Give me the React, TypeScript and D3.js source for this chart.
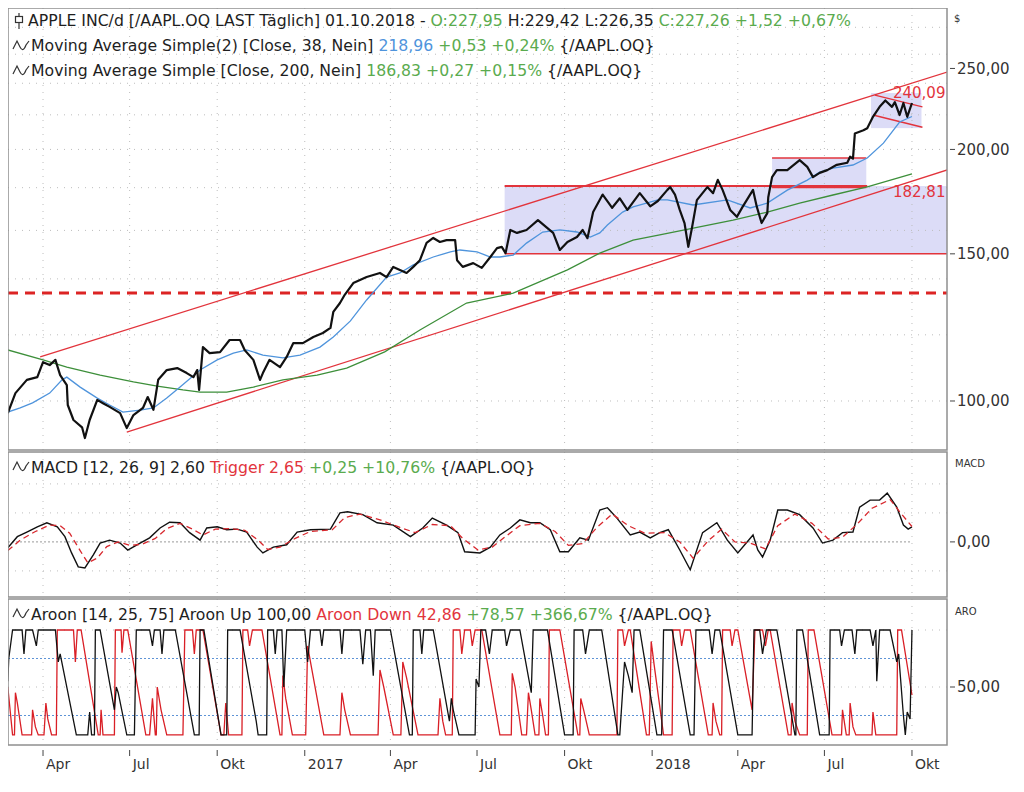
import * as d3 from "d3";

// day offsets are counted from 2016-04-01 (UTC)
const BASE = Date.UTC(2016, 3, 1);
const day = (d: number) => new Date(BASE + d * 864e5);

type Pt = [number, number];

const closePrices: Pt[] = [
  [-37, 96.7], [-29, 102.2], [-17, 106], [-6, 106.8], [0, 111.3], [7, 110.4], [13, 112], [18, 107.4],
  [25, 104.5], [26, 98.9], [32, 94.9], [41, 93], [44, 90.3], [49, 94.9], [57, 100.3], [63, 99.4],
  [70, 98.4], [81, 96.7], [88, 92.8], [95, 96.2], [105, 98.1], [110, 101.1], [116, 97.6], [121, 106],
  [130, 108.9], [141, 109.5], [151, 108], [158, 106.8], [162, 108.9], [164, 103.1], [168, 116],
  [175, 114.1], [186, 114.4], [196, 118.3], [207, 118.3], [212, 115], [221, 112], [228, 106],
  [231, 108], [238, 112], [249, 109.8], [256, 112.9], [263, 117.3], [273, 117.3], [284, 119.3],
  [294, 120.6], [302, 122.3], [305, 127.8], [312, 131], [317, 134], [326, 138.4], [340, 140.7],
  [354, 142.3], [361, 140.7], [368, 144.7], [375, 143.5], [382, 142.3], [389, 144.7], [396, 147.4],
  [403, 154.6], [410, 156.7], [417, 155], [424, 155.8], [433, 155.8], [435, 147.4], [441, 144.7],
  [452, 146.2], [461, 144.3], [470, 148.7], [477, 152.4], [482, 152.9], [486, 150.3], [491, 160.2],
  [498, 158.9], [508, 160.2], [520, 164.6], [530, 161], [536, 158.9], [543, 151.6], [551, 155],
  [561, 157.1], [567, 160.2], [572, 156.6], [578, 168.3], [588, 176.6], [598, 170.3], [606, 174.8],
  [614, 169.3], [627, 177.3], [638, 171], [646, 173.5], [656, 178.9], [659, 180.3], [664, 176.6],
  [669, 169.3], [674, 163.3], [678, 152.9], [682, 161.5], [687, 173.9], [698, 180.3], [704, 177.3],
  [709, 183.9], [714, 178.9], [722, 169.3], [729, 166.1], [735, 170.7], [746, 178.9], [750, 170.7],
  [755, 163.3], [761, 167.8], [762, 175.3], [766, 185.3], [771, 188.9], [782, 188.9], [795, 194.2],
  [803, 190.6], [809, 185.3], [816, 187.5], [824, 188.9], [834, 191.7], [845, 192.8], [848, 196],
  [851, 195], [853, 209], [862, 210.8], [866, 212], [872, 218.8], [879, 224.9], [885, 228.9],
  [892, 224.9], [895, 227.8], [900, 219.9], [904, 227.3], [908, 218.8], [913, 227.3],
];

const sma38: Pt[] = [
  [-37, 97], [-24, 98.1], [-11, 99.5], [7, 102.2], [20, 106], [25, 106.8], [39, 103.9], [57, 100.8],
  [70, 98.9], [84, 97], [102, 97.5], [116, 98.1], [130, 100.8], [144, 103.9], [165, 108.9],
  [183, 112], [200, 114.1], [214, 115.1], [231, 113.5], [252, 112.6], [270, 113.5], [291, 116],
  [305, 119.3], [323, 124.7], [340, 132.1], [361, 140.7], [375, 142.3], [389, 145.5], [410, 148.7],
  [428, 150.8], [438, 151.6], [456, 150.8], [470, 148.7], [480, 148.7], [494, 149.5], [508, 154.5],
  [525, 159.3], [543, 160.2], [561, 159.3], [575, 157.1], [585, 158.9], [593, 162.4], [609, 168.3],
  [620, 170.7], [646, 174], [656, 174], [683, 171.6], [719, 174], [743, 170.2], [761, 172.5],
  [782, 178.8], [803, 183.8], [816, 187.9], [830, 190], [851, 191.6], [866, 195.3], [883, 203.5],
  [900, 215.7], [913, 219],
];

const sma200: Pt[] = [
  [-37, 115.1], [0, 112], [25, 109.8], [60, 107.4], [95, 105.4], [120, 104.2], [147, 103.1],
  [165, 102.5], [193, 102.5], [221, 103.9], [252, 106], [288, 107.4], [319, 109.5], [359, 114.5],
  [396, 121.6], [445, 131], [494, 134.6], [551, 143.5], [585, 150.3], [620, 155.8], [648, 158],
  [725, 164.6], [761, 168.3], [795, 172.5], [830, 176.4], [866, 180.4], [913, 187],
];

const macdLine: Pt[] = [
  [-37, -1], [-27, 0.9], [-17, 1.7], [-6, 2.6], [4, 3.3], [15, 2.6], [23, 0.9], [30, -1.9],
  [37, -4.3], [44, -4.5], [53, -2.2], [60, -0.2], [70, 0.3], [81, -0.2], [89, -1.4], [102, -0.2],
  [112, 0.7], [123, 2.4], [133, 3.4], [144, 3.3], [154, 1.6], [165, 0.3], [172, 2.4], [183, 2.6],
  [193, 2.1], [204, 2.2], [214, 1.7], [225, -0.9], [231, -1.9], [242, -0.9], [256, -0.5],
  [267, 1.7], [281, 2.1], [302, 2.2], [312, 5], [320, 5.2], [336, 4.7], [351, 3.3], [368, 2.9],
  [386, 0.9], [399, 2.4], [409, 4.1], [424, 2.9], [436, 1.6], [443, -1.7], [459, -1.9],
  [470, -0.9], [480, 1.2], [491, 2.4], [501, 3.8], [512, 3.3], [522, 3.3], [533, 2.1], [543, -1.7],
  [552, -1.7], [564, 0.7], [573, 0.3], [585, 5.5], [593, 5.9], [603, 4.1], [617, 1.2], [627, 1.7],
  [638, 0.7], [648, 1.6], [657, 2.1], [669, -1.4], [680, -4.8], [693, 1.6], [708, 3.3], [719, 0.3],
  [730, -1.9], [746, 1.2], [751, -1.4], [756, -2.6], [764, 0.3], [772, 5.5], [782, 5.5], [795, 4.7],
  [809, 2.4], [819, -0.2], [830, 0.3], [840, 1.6], [851, 1.7], [858, 6], [869, 7.2], [879, 7.2],
  [887, 8.4], [897, 6], [904, 2.9], [909, 2.2], [913, 2.6],
];

const macdTrigger: Pt[] = [
  [-37, -1.5], [-24, 0.3], [-8, 1.8], [7, 2.9], [18, 2.8], [28, 1.5], [39, -1.5], [47, -3.6],
  [57, -2.8], [67, -0.8], [79, 0], [91, -0.6], [104, -0.4], [118, 0.6], [130, 2.3], [144, 3.2],
  [157, 2.2], [168, 1.2], [181, 2.2], [196, 2.3], [212, 2], [226, 0.3], [236, -1.3], [249, -0.9],
  [265, 0.6], [281, 1.8], [304, 2.1], [317, 4.2], [333, 4.8], [354, 3.8], [375, 2.5], [391, 1.6],
  [409, 3], [428, 2.8], [441, 0.6], [457, -1.4], [472, -0.9], [485, 0.8], [501, 2.8], [522, 3.2],
  [538, 1.8], [552, -0.6], [567, -0.3], [582, 2.5], [598, 4.8], [615, 2.8], [632, 1.5], [653, 1.6],
  [669, 0], [683, -2.8], [699, 0.2], [713, 2.2], [727, 0], [743, -0.2], [759, -1.2], [772, 2.8],
  [790, 4.8], [808, 3.2], [825, 0.5], [840, 0.8], [855, 3], [871, 5.8], [890, 7.3], [902, 4.8],
  [913, 2.65],
];

const aroonUp: Pt[] = [
  [-37, 55], [-36, 75], [-32, 100], [-22, 100], [-20, 79], [-18, 100], [-11, 100], [-7, 86],
  [-5, 100], [13, 100], [16, 72], [18, 79], [35, 8], [47, 8], [49, 28], [51, 8], [54, 8], [55, 100],
  [60, 100], [75, 30], [77, 50], [79, 45], [88, 8], [96, 8], [98, 100], [112, 100], [115, 86],
  [117, 100], [123, 100], [125, 79], [127, 100], [139, 100], [159, 8], [164, 8], [165, 100],
  [169, 100], [187, 8], [193, 8], [194, 100], [207, 100], [224, 20], [226, 8], [235, 8], [236, 100],
  [242, 100], [244, 79], [246, 100], [251, 100], [253, 50], [256, 100], [275, 100], [278, 72],
  [281, 100], [291, 100], [293, 86], [295, 100], [312, 100], [314, 79], [316, 100], [333, 100],
  [336, 70], [339, 100], [344, 100], [347, 60], [349, 100], [365, 100], [385, 8], [388, 8],
  [389, 100], [396, 100], [398, 79], [400, 100], [410, 100], [427, 20], [429, 40], [431, 30],
  [437, 8], [454, 8], [455, 57], [458, 50], [460, 100], [465, 100], [469, 79], [472, 100],
  [485, 100], [487, 86], [491, 100], [501, 100], [513, 45], [515, 100], [530, 100], [548, 8],
  [557, 8], [558, 100], [567, 100], [570, 79], [574, 100], [587, 100], [604, 8], [606, 8],
  [611, 72], [615, 60], [619, 45], [621, 100], [627, 100], [645, 8], [650, 8], [652, 100],
  [661, 100], [680, 8], [684, 8], [686, 100], [700, 100], [703, 79], [706, 100], [711, 100],
  [730, 8], [745, 8], [747, 100], [753, 100], [756, 79], [760, 100], [771, 100], [790, 8],
  [791, 8], [792, 100], [798, 100], [816, 8], [826, 8], [827, 100], [837, 100], [839, 86],
  [842, 100], [850, 100], [853, 79], [855, 100], [869, 100], [872, 86], [875, 100], [876, 55],
  [879, 100], [890, 100], [897, 72], [899, 79], [904, 25], [906, 8], [908, 28], [911, 22],
  [913, 100],
];

const aroonDown: Pt[] = [
  [-37, 50], [-32, 8], [-30, 8], [-29, 45], [-27, 36], [-22, 8], [-12, 8], [-11, 30], [-8, 15],
  [-5, 8], [1, 8], [3, 36], [5, 22], [9, 8], [14, 8], [15, 100], [32, 100], [34, 72], [36, 100],
  [40, 100], [58, 8], [60, 8], [61, 30], [63, 8], [75, 8], [76, 100], [82, 100], [83, 80],
  [85, 100], [89, 100], [108, 8], [112, 8], [115, 40], [118, 8], [119, 8], [120, 50], [124, 30],
  [130, 8], [147, 8], [149, 100], [157, 100], [159, 79], [161, 100], [168, 100], [187, 8],
  [190, 8], [192, 36], [195, 8], [209, 8], [210, 100], [215, 100], [217, 86], [220, 100],
  [230, 100], [249, 8], [251, 8], [252, 60], [255, 40], [262, 8], [276, 8], [278, 86], [281, 72],
  [295, 8], [312, 8], [314, 45], [317, 30], [323, 8], [352, 8], [354, 65], [358, 50], [368, 8],
  [376, 8], [378, 72], [382, 58], [394, 8], [415, 8], [417, 40], [420, 20], [423, 8], [430, 8],
  [431, 100], [438, 100], [440, 79], [443, 100], [449, 100], [451, 86], [454, 100], [461, 100],
  [480, 8], [492, 8], [493, 62], [496, 50], [503, 8], [508, 8], [510, 45], [513, 30], [517, 8],
  [521, 8], [522, 40], [525, 25], [528, 8], [531, 8], [532, 100], [543, 100], [562, 8], [564, 8],
  [565, 40], [568, 30], [574, 8], [603, 8], [604, 100], [609, 100], [611, 86], [615, 100],
  [617, 100], [634, 8], [637, 8], [639, 90], [642, 70], [652, 8], [661, 8], [662, 100], [669, 100],
  [671, 86], [674, 100], [680, 100], [699, 8], [703, 8], [704, 36], [707, 20], [711, 8], [713, 8],
  [714, 100], [722, 100], [724, 86], [727, 100], [730, 100], [745, 30], [748, 100], [756, 100],
  [759, 86], [762, 100], [764, 100], [783, 8], [786, 8], [787, 36], [790, 20], [795, 8], [803, 8],
  [804, 100], [810, 100], [829, 8], [839, 8], [840, 30], [844, 8], [847, 8], [848, 36], [851, 15],
  [854, 8], [871, 8], [872, 28], [875, 8], [897, 8], [898, 100], [902, 100], [913, 43],
];

// drawing tools on the price panel
const channelUpper: Pt[] = [[-3, 112.9], [950, 247.5]];
const channelLower: Pt[] = [[88, 91.8], [950, 189]];
const wedgeUpper: Pt[] = [[874, 232.3], [924, 224.9]];
const wedgeLower: Pt[] = [[872, 219.9], [924, 212.6]];
const dashedLevel = 134.7;
// [fromDay, toDay, low, high]
const boxes: [number, number, number, number][] = [
  [485, 950, 150, 180.8],
  [766, 865, 180.8, 195.3],
  [870, 923, 212.1, 233.6],
];
const boxTopEnd = 866;
const levelLabels: [number, number, string][] = [
  [893, 240.09, "240,09"],
  [893, 182.81, "182,81"],
];

const quarterLabels = ["Apr", "Jul", "Okt", "2017", "Apr", "Jul", "Okt", "2018", "Apr", "Jul", "Okt"];
const priceTicks = [100, 150, 200, 250];
const priceGrid = [100, 120, 140, 160, 180, 200, 220, 240, 260, 280];
const macdGrid = [-5, 5, 10];
const aroonGrid = [50, 100];
const aroonLevels = [25, 75];

const FONT = "DejaVu Sans";
const RED = "#e2343c";
const GREEN = "#5aab4e";
const BLUE = "#4f94dc";
const TXT = "#1e1e1e";
const GRID = "#bdbdbd";

const L = 8;
const R = 947;
const MAIN: [number, number] = [8, 450];
const MACD: [number, number] = [452, 597];
const ARO: [number, number] = [599, 745];

function Wave({ x, y }: { x: number; y: number }) {
  return (
    <path
      d={`M${x},${y + 3} L${x + 4},${y - 5} L${x + 7},${y + 1} Q${x + 10},${y + 7} ${x + 13},${y - 1} L${x + 16},${y - 5}`}
      fill="none"
      stroke="#333"
      strokeWidth={1.2}
    />
  );
}

export default function App() {
  const x = d3.scaleUtc().domain([day(-36.8), day(949.8)]).range([L, R]);
  const yP = d3.scaleLog().domain([87.37, 295.3]).range([MAIN[1], MAIN[0]]);
  const yM = d3.scaleLinear().domain([-9.5, 15.5]).range([MACD[1], MACD[0]]);
  const yA = d3.scaleLinear().domain([0, 100]).range([744, 630]);

  const px = (d: Pt) => x(day(d[0]));
  const lineP = d3.line<Pt>().x(px).y((d) => yP(d[1]));
  const lineM = d3.line<Pt>().x(px).y((d) => yM(d[1]));
  const lineA = d3.line<Pt>().x(px).y((d) => yA(d[1]));

  const quarters = d3.utcMonth.every(3)!.range(day(-36.8), day(949.8));

  const vGrid = (top: number, bottom: number) =>
    quarters.map((q, i) => (
      <line key={i} x1={x(q)} x2={x(q)} y1={top} y2={bottom} stroke={GRID} strokeDasharray="1 6" />
    ));

  const panels = [MAIN, MACD, ARO];

  return (
    <svg width={1024} height={792} style={{ display: "block", margin: -8 }} fontFamily={FONT}>
      <rect width={1024} height={792} fill="#fff" />
      <defs>
        {panels.map((p, i) => (
          <clipPath id={`clip${i}`} key={i}>
            <rect x={L} y={p[0]} width={R - L} height={p[1] - p[0]} />
          </clipPath>
        ))}
      </defs>

      {/* price panel */}
      <g clipPath="url(#clip0)">
        {boxes.map((b, i) => (
          <rect
            key={i}
            x={x(day(b[0]))}
            width={x(day(b[1])) - x(day(b[0]))}
            y={yP(b[3])}
            height={yP(b[2]) - yP(b[3])}
            fill="#dcdcf7"
          />
        ))}
        {vGrid(MAIN[0], MAIN[1])}
        {priceGrid.map((v) => (
          <line key={v} x1={L} x2={R} y1={yP(v)} y2={yP(v)} stroke={GRID} strokeDasharray="1 6" />
        ))}
        {/* range box edges */}
        <line x1={x(day(boxes[0][0]))} x2={x(day(boxTopEnd))} y1={yP(boxes[0][3])} y2={yP(boxes[0][3])} stroke={RED} strokeWidth={2} />
        <line x1={x(day(boxes[0][0]))} x2={R} y1={yP(boxes[0][2])} y2={yP(boxes[0][2])} stroke={RED} strokeWidth={1.5} />
        <line x1={x(day(boxes[1][0]))} x2={x(day(boxes[1][1]))} y1={yP(boxes[1][3])} y2={yP(boxes[1][3])} stroke={RED} strokeWidth={1.5} />
        <line x1={x(day(boxes[1][0]))} x2={x(day(boxes[1][1]))} y1={yP(boxes[1][2]) + 1.5} y2={yP(boxes[1][2]) + 1.5} stroke={RED} strokeWidth={1.5} />
        <line x1={L} x2={R} y1={yP(dashedLevel)} y2={yP(dashedLevel)} stroke="#dc2424" strokeWidth={3} strokeDasharray="10 7" />
        {[channelUpper, channelLower, wedgeUpper, wedgeLower].map((c, i) => (
          <path key={i} d={lineP(c)!} fill="none" stroke={RED} strokeWidth={1.3} />
        ))}
        <path d={lineP(sma200)!} fill="none" stroke="#3d8f3a" strokeWidth={1.3} />
        <path d={lineP(sma38)!} fill="none" stroke={BLUE} strokeWidth={1.3} />
        <path d={lineP(closePrices)!} fill="none" stroke="#111" strokeWidth={2.2} strokeLinejoin="round" />
        {levelLabels.map(([d, v, t]) => (
          <text key={t} x={x(day(d))} y={yP(v) + 15} fill={RED} fontSize={15}>
            {t}
          </text>
        ))}
      </g>

      {/* MACD panel */}
      <g clipPath="url(#clip1)">
        {vGrid(MACD[0], MACD[1])}
        {macdGrid.map((v) => (
          <line key={v} x1={L} x2={R} y1={yM(v)} y2={yM(v)} stroke={GRID} strokeDasharray="1 6" />
        ))}
        <line x1={L} x2={x(day(913))} y1={yM(0)} y2={yM(0)} stroke="#9a9a9a" strokeDasharray="2 2" />
        <path d={lineM(macdLine)!} fill="none" stroke="#111" strokeWidth={1.4} />
        <path d={lineM(macdTrigger)!} fill="none" stroke="#d8282e" strokeWidth={1.3} strokeDasharray="6 4" />
      </g>

      {/* Aroon panel */}
      <g clipPath="url(#clip2)">
        {vGrid(ARO[0], ARO[1])}
        {aroonGrid.map((v) => (
          <line key={v} x1={L} x2={R} y1={yA(v)} y2={yA(v)} stroke={GRID} strokeDasharray="1 6" />
        ))}
        {aroonLevels.map((v) => (
          <line key={v} x1={L} x2={x(day(913))} y1={yA(v)} y2={yA(v)} stroke="#5d93d6" strokeDasharray="2 2" />
        ))}
        <path d={lineA(aroonDown)!} fill="none" stroke="#d91f26" strokeWidth={1.3} />
        <path d={lineA(aroonUp)!} fill="none" stroke="#111" strokeWidth={1.3} />
      </g>

      {/* panel frames */}
      {panels.map((p, i) => (
        <rect key={i} x={L} y={p[0]} width={R - L} height={p[1] - p[0]} fill="none" stroke="#8f8f8f" strokeWidth={1.5} />
      ))}

      {/* right axes */}
      {priceTicks.map((v) => (
        <g key={v}>
          <line x1={R + 3} x2={R + 8} y1={yP(v)} y2={yP(v)} stroke="#444" />
          <text x={R + 10} y={yP(v)} dy="0.36em" fontSize={15} fill="#333">
            {d3.format(".2f")(v).replace(".", ",")}
          </text>
        </g>
      ))}
      <g>
        <line x1={R + 3} x2={R + 8} y1={yM(0)} y2={yM(0)} stroke="#444" />
        <text x={R + 10} y={yM(0)} dy="0.36em" fontSize={15} fill="#333">0,00</text>
        <line x1={R + 3} x2={R + 8} y1={yA(50)} y2={yA(50)} stroke="#444" />
        <text x={R + 10} y={yA(50)} dy="0.36em" fontSize={15} fill="#333">50,00</text>
      </g>
      <text x={R + 7} y={22} fontSize={10} fill="#333">$</text>
      <text x={R + 8} y={467} fontSize={10} fill="#333">MACD</text>
      <text x={R + 8} y={615} fontSize={10} fill="#333">ARO</text>

      {/* time axis */}
      {quarters.map((q, i) => (
        <g key={i}>
          <line x1={x(q)} x2={x(q)} y1={750} y2={756} stroke="#444" />
          <text x={x(q) + 3} y={769} fontSize={14} fill="#333">
            {quarterLabels[i]}
          </text>
        </g>
      ))}

      {/* legends */}
      <g fontSize={15.7} fill={TXT}>
        <line x1={19} x2={19} y1={13} y2={29} stroke="#333" strokeWidth={1.2} />
        <rect x={15.5} y={16.5} width={7} height={6} fill="#fff" stroke="#333" strokeWidth={1.2} />
        <text x={28} y={26}>
          APPLE INC/d [/AAPL.OQ LAST Täglich] 01.10.2018 - <tspan fill={GREEN}>O:227,95</tspan> H:229,42
          L:226,35 <tspan fill={GREEN}>C:227,26 +1,52 +0,67%</tspan>
        </text>
        <Wave x={13} y={46} />
        <text x={31} y={51}>
          Moving Average Simple(2) [Close, 38, Nein] <tspan fill={BLUE}>218,96</tspan>{" "}
          <tspan fill={GREEN}>+0,53 +0,24%</tspan> {"{/AAPL.OQ}"}
        </text>
        <Wave x={13} y={71} />
        <text x={31} y={76}>
          Moving Average Simple [Close, 200, Nein] <tspan fill={GREEN}>186,83 +0,27 +0,15%</tspan> {"{/AAPL.OQ}"}
        </text>
        <Wave x={13} y={467} />
        <text x={31} y={473}>
          MACD [12, 26, 9] 2,60 <tspan fill={RED}>Trigger 2,65</tspan> <tspan fill={GREEN}>+0,25 +10,76%</tspan>{" "}
          {"{/AAPL.OQ}"}
        </text>
        <Wave x={13} y={614} />
        <text x={31} y={620}>
          Aroon [14, 25, 75] Aroon Up 100,00 <tspan fill={RED}>Aroon Down 42,86</tspan>{" "}
          <tspan fill={GREEN}>+78,57 +366,67%</tspan> {"{/AAPL.OQ}"}
        </text>
      </g>
    </svg>
  );
}
